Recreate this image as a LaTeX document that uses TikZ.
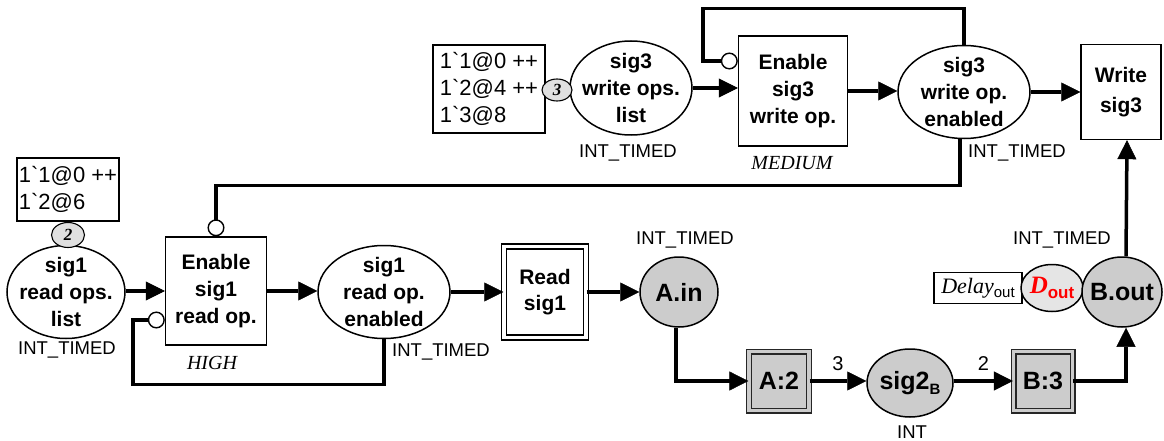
\documentclass[tikz,border=0pt]{standalone}
\usepackage{fontspec}
\setmainfont{Liberation Sans}
\newfontfamily\serif{Liberation Serif}
\newfontfamily\tokfont{Liberation Sans}[Ligatures=TeXOff]
\usetikzlibrary{shapes.geometric,arrows.meta}
\tikzset{
  bf/.style={font=\bfseries\fontsize{21}{27}\selectfont, align=center},
  bfbig/.style={font=\bfseries\fontsize{25}{27}\selectfont, align=center},
  placeshape/.style={ellipse, draw, line width=1.5pt, inner sep=0pt},
  gplace/.style={placeshape, fill=black!20},
  trans/.style={rectangle, draw, line width=1.4pt, inner sep=0pt, fill=white},
  subtrans/.style={rectangle, draw=black!85, line width=1.2pt, double=black!20, double distance=3.6pt, fill=black!20, inner sep=0pt},
  arc/.style={line width=3.5pt, -{Triangle[length=19pt,width=19pt,line width=0.5pt]}},
  inh/.style={line width=3.5pt, -{Circle[length=17pt,fill=white,line width=1.4pt]}},
  typ/.style={font=\fontsize{18.5}{20}\selectfont, inner sep=0pt},
  prio/.style={font=\serif\itshape\fontsize{20}{22}\selectfont, inner sep=0pt},
  tokbox/.style={draw, line width=1.1pt, inner sep=0pt, align=left, font=\tokfont\fontsize{22}{27}\selectfont},
  tokcirc/.style={ellipse, draw, line width=1.1pt, fill=black!12, inner sep=0pt, font=\serif\bfseries\itshape\fontsize{17}{17}\selectfont},
  lbl/.style={font=\fontsize{20}{20}\selectfont, inner sep=0pt},
}
\begin{document}
\begin{tikzpicture}[x=1pt,y=-1pt]
\useasboundingbox (0,0) rectangle (1164,441);

% ---------- bottom row ----------
\node[tokbox, minimum width=102pt, minimum height=63pt] (tok1) at (68,189.5) {1`1@0 ++\\1`2@6};
\node[placeshape, minimum width=118pt, minimum height=93pt] (p1) at (66,292) {};
\node[bf] (p1t) at (p1) {sig1\\read ops.\\list};
\node[tokcirc, minimum width=33pt, minimum height=25pt] (c1) at (68,235) {2};
\node[typ] (t1) at (67,350) {INT\_TIMED};

\node[trans, minimum width=101pt, minimum height=108pt, bf] (en1) at (216,291) {Enable\\sig1\\read op.};
\node[prio] (h1) at (212,363) {HIGH};

\node[placeshape, minimum width=132pt, minimum height=93pt] (r1e) at (384,292) {};
\node[bf] (r1et) at (r1e) {sig1\\read op.\\enabled};
\node[typ, anchor=west] (t2) at (392,352) {INT\_TIMED};

\node[trans, double, double distance=3.8pt, line width=1.3pt, minimum width=82pt, minimum height=91pt, font=\bfseries\fontsize{21}{26}\selectfont, align=center] (rd1) at (545,292) {Read\\sig1};

\node[gplace, minimum width=78pt, minimum height=70pt] (ain) at (679,292) {};
\node[bfbig] (aint) at (ain) {A.in};
\node[typ] (t3) at (685,240) {INT\_TIMED};

\node[subtrans, minimum width=60pt, minimum height=59pt, bfbig] (A2) at (779,381) {A:2};
\node[gplace, minimum width=86pt, minimum height=68pt] (s2) at (910,383) {};
\node[bfbig] (s2t) at (s2) {sig2\raisebox{-5pt}{\fontsize{15}{15}\selectfont B}};
\node[typ] (t4) at (912,432) {INT};
\node[subtrans, minimum width=59pt, minimum height=59pt, bfbig] (B3) at (1043,381) {B:3};

\node[tokbox, minimum width=88pt, minimum height=31pt, align=center] (dly) at (978,288)
  {{\serif\itshape\fontsize{22}{22}\selectfont Delay}\raisebox{-4pt}{\fontsize{15}{15}\selectfont out}};
\node[placeshape, fill=black!10, minimum width=62pt, minimum height=47pt] (dout) at (1052,288) {};
\node[text=red, inner sep=0pt] (doutt) at (1052,288)
  {{\serif\bfseries\itshape\fontsize{25}{25}\selectfont D}\raisebox{-5pt}{\bfseries\fontsize{17}{17}\selectfont out}};
\node[gplace, minimum width=80pt, minimum height=70pt] (bout) at (1122,292) {};
\node[bfbig] (boutt) at (bout) {B.out};
\node[typ] (t5) at (1062,240) {INT\_TIMED};

% ---------- top row ----------
\node[tokbox, minimum width=112pt, minimum height=88pt] (tok3) at (489,89) {1`1@0 ++\\1`2@4 ++\\1`3@8};
\node[placeshape, minimum width=122pt, minimum height=94pt] (p3) at (631,88) {};
\node[bf] (p3t) at (p3) {sig3\\write ops.\\list};
\node[tokcirc, minimum width=30pt, minimum height=22pt] (c3) at (557,90) {3};
\node[typ] (t6) at (628,153) {INT\_TIMED};

\node[trans, minimum width=109pt, minimum height=110pt, bf] (en3) at (793,91) {Enable\\sig3\\write op.};
\node[prio] (m3) at (792,163) {MEDIUM};

\node[placeshape, minimum width=132pt, minimum height=93pt] (e3) at (964,92) {};
\node[bf] (e3t) at (e3) {sig3\\write op.\\enabled};
\node[typ, anchor=west] (t7) at (968,153) {INT\_TIMED};

\node[trans, minimum width=80pt, minimum height=95pt, font=\bfseries\fontsize{21}{30}\selectfont, align=center] (w3) at (1121,92) {Write\\sig3};

% ---------- arcs ----------
\draw[arc] (p1.east |- 0,291) -- (en1.west);
\draw[arc] (en1.east) -- (r1e.west |- en1.east);
\draw[arc] (r1e.east) -- (rd1.west);
\draw[arc] (rd1.east) -- (ain.west);
\draw[arc] (ain.south) ++(-3,0) |- (A2.west);
\draw[arc] (A2.east) -- node[lbl, above=9pt] (l3) {3} (s2.west |- A2.east);
\draw[arc] (s2.east |- B3.west) -- node[lbl, above=9pt] (l2) {2} (B3.west);
\draw[arc] (B3.east) -| ([xshift=4pt]bout.south);
\draw[arc] ([xshift=4pt]bout.north) -- ([xshift=6pt]w3.south);

\draw[arc] (p3.east) -- (en3.west |- p3.east);
\draw[arc] (en3.east) -- (e3.west |- en3.east);
\draw[arc] (e3.east) -- (w3.west |- e3.east);

% inhibitor arcs
\draw[inh] ([xshift=-4pt]e3.south) -- ++(0,46) -| (en1.north);
\draw[inh] (r1e.south) -- ++(0,45) -| (133,320) -- ([yshift=-29pt]en1.west);
\draw[inh] (e3.north) -- ++(0,-36) -| (703,61) -- ([yshift=30pt]en3.west);
\end{tikzpicture}
\end{document}
